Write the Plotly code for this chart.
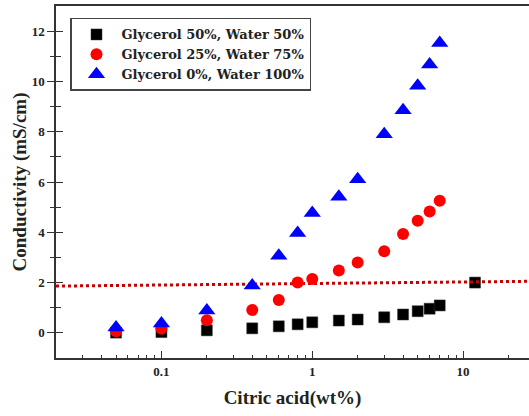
import math
import plotly.graph_objects as go

# ---- data ----
x_black = [0.05, 0.1, 0.2, 0.4, 0.6, 0.8, 1, 1.5, 2, 3, 4, 5, 6, 7, 12]
y_black = [0.01, 0.03, 0.10, 0.18, 0.26, 0.34, 0.42, 0.49, 0.53, 0.62, 0.73, 0.86, 0.96, 1.09, 2.0]

x_red = [0.05, 0.1, 0.2, 0.4, 0.6, 0.8, 1, 1.5, 2, 3, 4, 5, 6, 7]
y_red = [0.06, 0.16, 0.50, 0.91, 1.31, 2.0, 2.14, 2.48, 2.80, 3.25, 3.93, 4.46, 4.83, 5.25]

x_blue = [0.05, 0.1, 0.2, 0.4, 0.6, 0.8, 1, 1.5, 2, 3, 4, 5, 6, 7]
y_blue = [0.21, 0.37, 0.89, 1.88, 3.07, 3.97, 4.77, 5.41, 6.11, 7.90, 8.85, 9.83, 10.67, 11.53]

x_ref_line = [0.02, 27.4]
y_ref_line = [1.86, 2.05]

names = ["Glycerol 50%, Water 50%", "Glycerol 25%, Water 75%", "Glycerol 0%, Water 100%"]

x_major = [0.1, 1, 10]
x_major_text = ["0.1", "1", "10"]
x_minor = [0.03, 0.04, 0.05, 0.06, 0.07, 0.08, 0.09,
           0.2, 0.3, 0.4, 0.5, 0.6, 0.7, 0.8, 0.9,
           2, 3, 4, 5, 6, 7, 8, 9, 20]
y_major = [0, 2, 4, 6, 8, 10, 12]
y_minor = [1, 3, 5, 7, 9, 11]

FONT = "Liberation Serif"
LEG_FONT = "DejaVu Serif"
AX = "#333333"
TXT = "#222222"

fig = go.Figure()
fig.add_trace(go.Scatter(x=x_black, y=y_black, mode="markers", name=names[0],
                         marker=dict(symbol="square", size=11, color="#000000",
                                     line=dict(width=0.5, color="#333333"))))
fig.add_trace(go.Scatter(x=x_ref_line, y=y_ref_line, mode="lines", showlegend=False,
                         line=dict(color="#c80000", width=3, dash="dot")))
fig.add_trace(go.Scatter(x=x_red, y=y_red, mode="markers", name=names[1],
                         marker=dict(symbol="circle", size=12, color="#ff0000", line=dict(width=0))))
fig.add_trace(go.Scatter(x=x_blue, y=y_blue, mode="markers", name=names[2],
                         marker=dict(symbol="triangle-up", size=15, color="#0000ff", line=dict(width=0))))
fig.add_trace(go.Scatter(x=[], y=[], yaxis="y2", showlegend=False, hoverinfo="skip"))

fig.update_layout(
    width=529, height=416,
    margin=dict(l=56, r=0, t=6, b=58),
    paper_bgcolor="white", plot_bgcolor="white",
    font=dict(family=FONT, color=TXT, size=13, weight="bold"),
    showlegend=True,
    legend=dict(x=0.0296, y=0.966, xanchor="left", yanchor="top",
                bgcolor="white", bordercolor="#444444", borderwidth=1.5,
                font=dict(family=LEG_FONT, size=13, color=TXT, weight="bold"),
                itemwidth=40, tracegroupgap=0),
    xaxis=dict(type="log", range=[math.log10(0.02), 1.437], showgrid=False, zeroline=False,
               showline=True, linecolor=AX, linewidth=1.5, mirror=True,
               ticks="inside", ticklen=7, tickwidth=1.2, tickcolor=AX,
               tickmode="array", tickvals=x_major, ticktext=x_major_text,
               ticklabelstandoff=1,
               tickfont=dict(family=FONT, size=13, color=TXT, weight="bold"),
               minor=dict(tickmode="array", tickvals=x_minor, ticks="inside",
                          ticklen=3, tickwidth=1, tickcolor=AX, showgrid=False),
               title=dict(text="Citric acid(wt%)", standoff=12,
                          font=dict(family=FONT, size=19, color=TXT, weight="bold"))),
    yaxis=dict(range=[-1, 13], showgrid=False, zeroline=False,
               showline=True, linecolor=AX, linewidth=1.5, mirror=False,
               ticks="outside", ticklen=7, tickwidth=1.2, tickcolor=AX,
               tickmode="array", tickvals=y_major,
               tickfont=dict(family=FONT, size=13, color=TXT, weight="bold"),
               minor=dict(tickmode="array", tickvals=y_minor, ticks="outside",
                          ticklen=4, tickwidth=1, tickcolor=AX, showgrid=False),
               title=dict(text="Conductivity (mS/cm)", standoff=0,
                          font=dict(family=FONT, size=19, color=TXT, weight="bold"))),
    yaxis2=dict(range=[-1, 13], overlaying="y", anchor="x", side="left",
                showgrid=False, zeroline=False, showline=False,
                ticks="inside", ticklen=7, tickwidth=1.2, tickcolor=AX,
                tickmode="array", tickvals=y_major, showticklabels=False,
                minor=dict(tickmode="array", tickvals=y_minor, ticks="inside",
                           ticklen=5, tickwidth=1, tickcolor=AX, showgrid=False)),
)

fig.write_html("out.html", config={"displayModeBar": False},
               post_script="document.body.style.margin='0';document.body.style.padding='0';")
